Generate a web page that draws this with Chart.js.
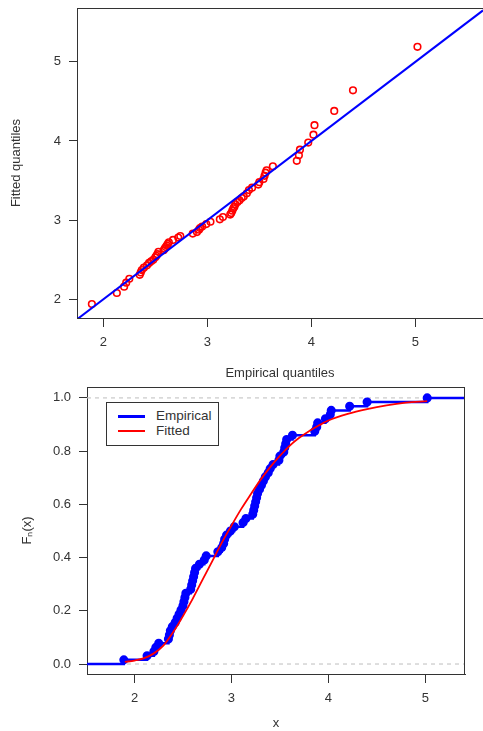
<!DOCTYPE html>
<html>
<head>
<meta charset="utf-8">
<script src="https://cdn.jsdelivr.net/npm/chart.js@4.4.0/dist/chart.umd.min.js"></script>
<style>
  body { margin: 0; background: #fff; width: 483px; height: 731px; overflow: hidden; position: relative; font-family: "Liberation Sans", Arial, sans-serif; }
  #caixaQQ { position: absolute; left: 0; top: 0; width: 483px; height: 383px; }
  #caixaCdf { position: absolute; left: 0; top: 383px; width: 483px; height: 348px; }
  #legenda { position: absolute; left: 106px; top: 402px; width: 111px; height: 42px; border: 1px solid #333; background: #fff; }
  .item { position: absolute; left: 0; height: 14px; font-size: 13.5px; color: #333; line-height: 14px; }
  .traco { position: absolute; left: 11px; width: 27px; height: 3px; }
  .texto { position: absolute; left: 49px; top: 0; white-space: nowrap; }
</style>
</head>
<body>
<div id="caixaQQ"><canvas id="graficoQQ"></canvas></div>
<div id="caixaCdf"><canvas id="graficoCdf"></canvas></div>
<div id="legenda">
  <div class="item" style="top:6px"><div class="traco" style="top:6px;background:#0000ff"></div><span class="texto">Empirical</span></div>
  <div class="item" style="top:21px"><div class="traco" style="top:6px;height:2px;background:#ff0000"></div><span class="texto">Fitted</span></div>
</div>
<script>
// dados (amostra ordenada e quantis ajustados)
const quantisEmpiricos = [1.89, 2.13, 2.20, 2.22, 2.25, 2.35, 2.36, 2.37, 2.39, 2.42,
  2.44, 2.46, 2.48, 2.50, 2.51, 2.52, 2.53, 2.58, 2.59, 2.60,
  2.61, 2.62, 2.63, 2.67, 2.72, 2.74, 2.86, 2.90, 2.92, 2.93,
  2.95, 2.99, 3.03, 3.12, 3.15, 3.22, 3.23, 3.24, 3.25, 3.26,
  3.27, 3.29, 3.31, 3.33, 3.35, 3.38, 3.40, 3.43, 3.49, 3.50,
  3.54, 3.55, 3.56, 3.57, 3.63, 3.86, 3.88, 3.89, 3.97, 4.02,
  4.03, 4.22, 4.40, 5.02];
const quantisAjustados = [1.94, 2.08, 2.16, 2.21, 2.26, 2.31, 2.34, 2.37, 2.40, 2.43,
  2.46, 2.48, 2.50, 2.53, 2.55, 2.57, 2.60, 2.62, 2.64, 2.66,
  2.68, 2.70, 2.72, 2.75, 2.78, 2.80, 2.83, 2.85, 2.88, 2.90,
  2.92, 2.95, 2.98, 3.01, 3.04, 3.07, 3.09, 3.12, 3.15, 3.17,
  3.20, 3.23, 3.25, 3.28, 3.30, 3.34, 3.38, 3.41, 3.45, 3.48,
  3.52, 3.56, 3.60, 3.63, 3.68, 3.75, 3.82, 3.89, 3.98, 4.08,
  4.20, 4.38, 4.64, 5.19];

// curva ajustada (vermelha) no grafico de baixo
const xCurvaAjustada = [1.90, 2.00, 2.10, 2.20, 2.30, 2.40, 2.50, 2.60, 2.70, 2.80,
  2.90, 3.00, 3.10, 3.20, 3.30, 3.40, 3.50, 3.60, 3.70, 3.80,
  3.90, 4.00, 4.20, 4.40, 4.60, 4.80, 5.02];
const yCurvaAjustada = [0.008, 0.013, 0.022, 0.040, 0.070, 0.120, 0.180, 0.245, 0.315, 0.385,
  0.455, 0.520, 0.582, 0.638, 0.692, 0.740, 0.782, 0.820, 0.850, 0.875,
  0.896, 0.915, 0.940, 0.958, 0.972, 0.982, 0.988];

const ticksXQQ = [2, 3, 4, 5];
const ticksYQQ = [2, 3, 4, 5];
const limitesXQQ = [1.747, 5.65];
const limitesYQQ = [1.764, 5.68];

const ticksXCdf = [2, 3, 4, 5];
const ticksYCdf = [0, 0.2, 0.4, 0.6, 0.8, 1.0];
const limitesXCdf = [1.51, 5.41];
const limitesYCdf = [-0.0375, 1.041];

const corTexto = "#333";
const fonteEixo = { family: "'Liberation Sans', Arial, sans-serif", size: 13 };

// desenha as bordas que faltam da caixa (topo e direita)
const pluginCaixa = {
  id: "caixa",
  afterDraw(chart, args, opts) {
    const a = chart.chartArea;
    const ctx = chart.ctx;
    ctx.save();
    ctx.strokeStyle = corTexto;
    ctx.lineWidth = 1;
    ctx.beginPath();
    ctx.moveTo(a.left, a.top + 0.5);
    ctx.lineTo(a.right, a.top + 0.5);
    if (opts.direita) {
      ctx.moveTo(a.right - 0.5, a.top);
      ctx.lineTo(a.right - 0.5, a.bottom);
    }
    ctx.stroke();
    ctx.restore();
  }
};

function eixo(limites, ticks, titulo, vertical, tamanho, tituloPad, tickLen, formato) {
  return {
    type: "linear",
    min: limites[0],
    max: limites[1],
    afterBuildTicks: (s) => { s.ticks = ticks.map(v => ({ value: v })); },
    afterFit: (s) => {
      if (vertical) { s.width = tamanho; } else { s.height = tamanho; }
      // sem folga extra para os rotulos: a area do grafico fica onde queremos
      s.paddingTop = 0; s.paddingBottom = 0; s.paddingLeft = 0; s.paddingRight = 0;
    },
    ticks: {
      color: corTexto,
      font: fonteEixo,
      padding: 8,
      maxRotation: 0,
      autoSkip: false,
      callback: formato
    },
    grid: { drawOnChartArea: false, tickLength: tickLen, color: corTexto, lineWidth: 1 },
    border: { color: corTexto, width: 1 },
    title: { display: true, text: titulo, color: corTexto, font: fonteEixo, padding: tituloPad }
  };
}

// grafico Q-Q
var pontosQQ = [];
for (i = 0; i < quantisEmpiricos.length; i++) {
  pontosQQ.push({ x: quantisEmpiricos[i], y: quantisAjustados[i] });
}

new Chart(document.getElementById("graficoQQ"), {
  type: "scatter",
  data: {
    datasets: [{
      data: [{ x: limitesXQQ[0], y: limitesXQQ[0] }, { x: limitesXQQ[1], y: limitesXQQ[1] }],
      showLine: true,
      borderColor: "#0000ff",
      borderWidth: 2,
      pointRadius: 0
    }, {
      data: pontosQQ,
      pointStyle: "circle",
      pointRadius: 3.3,
      borderWidth: 1.6,
      borderColor: "#ff0000",
      backgroundColor: "rgba(0,0,0,0)"
    }]
  },
  options: {
    responsive: true,
    maintainAspectRatio: false,
    animation: false,
    layout: { autoPadding: false, padding: { top: 8, right: 0, left: 0, bottom: 0 } },
    plugins: { legend: { display: false }, tooltip: { enabled: false }, caixa: { direita: false } },
    scales: {
      x: eixo(limitesXQQ, ticksXQQ, "Empirical quantiles", false, 65, { top: 0, bottom: 2 }, 9),
      y: eixo(limitesYQQ, ticksYQQ, "Fitted quantiles", true, 77, { top: 9, bottom: 0 }, 8)
    }
  },
  plugins: [pluginCaixa]
});

// grafico da distribuicao acumulada
var pontosCdf = [{ x: limitesXCdf[0], y: 0 }];
var raios = [0];
for (i = 0; i < quantisEmpiricos.length; i++) {
  pontosCdf.push({ x: quantisEmpiricos[i], y: (i + 1) / quantisEmpiricos.length });
  raios.push(3.3);
}
pontosCdf.push({ x: limitesXCdf[1], y: 1 });
raios.push(0);

var pontosCurva = [];
for (i = 0; i < xCurvaAjustada.length; i++) {
  pontosCurva.push({ x: xCurvaAjustada[i], y: yCurvaAjustada[i] });
}

new Chart(document.getElementById("graficoCdf"), {
  type: "scatter",
  data: {
    datasets: [{
      label: "Fitted",
      data: pontosCurva,
      showLine: true,
      cubicInterpolationMode: "monotone",
      borderColor: "#ff0000",
      borderWidth: 1.8,
      pointRadius: 0
    }, {
      label: "Empirical",
      data: pontosCdf,
      showLine: true,
      stepped: true,
      borderColor: "#0000ff",
      backgroundColor: "#0000ff",
      borderWidth: 2.5,
      pointRadius: raios
    }, {
      data: [{ x: limitesXCdf[0], y: 0 }, { x: limitesXCdf[1], y: 0 }],
      showLine: true,
      borderColor: "#c8c8c8",
      borderWidth: 1.2,
      borderDash: [4, 4],
      pointRadius: 0
    }, {
      data: [{ x: limitesXCdf[0], y: 1 }, { x: limitesXCdf[1], y: 1 }],
      showLine: true,
      borderColor: "#c8c8c8",
      borderWidth: 1.2,
      borderDash: [4, 4],
      pointRadius: 0
    }]
  },
  options: {
    responsive: true,
    maintainAspectRatio: false,
    animation: false,
    layout: { autoPadding: false, padding: { top: 4, right: 18, left: 0, bottom: 0 } },
    plugins: { legend: { display: false }, tooltip: { enabled: false }, caixa: { direita: true } },
    scales: {
      x: eixo(limitesXCdf, ticksXCdf, "x", false, 57, { top: 0, bottom: 0 }, 9),
      y: eixo(limitesYCdf, ticksYCdf, "Fₙ(x)", true, 87, { top: 20, bottom: 0 }, 8, v => v.toFixed(1))
    }
  },
  plugins: [pluginCaixa]
});
</script>
</body>
</html>
